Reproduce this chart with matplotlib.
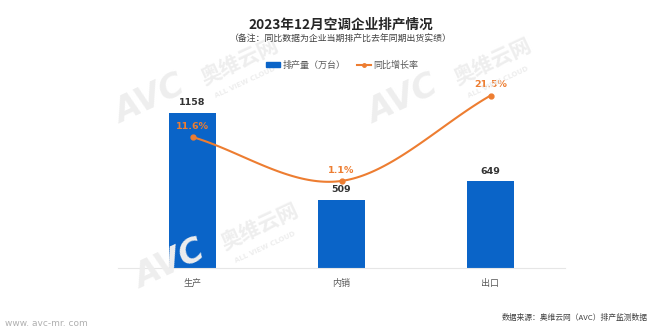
import numpy as np
import matplotlib.pyplot as plt
from matplotlib.patches import Patch
from matplotlib.lines import Line2D

plt.rcParams['font.family'] = ['Noto Sans CJK SC', 'DejaVu Sans']

# 数据
categories = ['生产', '内销', '出口']
output = [1158, 509, 649]          # 排产量（万台）
yoy = [11.6, 1.1, 21.5]            # 同比增长率 %

blue = '#0a64c8'
orange = '#ed7d31'

fig = plt.figure(figsize=(6.6, 3.36), dpi=100)
fig.patch.set_facecolor('white')

# 水印
wm = dict(color='#eeeeee', rotation=25, ha='center', va='center', zorder=0)
for (x, y) in [(150, 100), (403, 100), (170, 265)]:
    fig.text(x / 660, 1 - y / 336, 'AVC', fontsize=24, fontweight='bold',
             style='italic', family='DejaVu Sans', **wm)
    fig.text((x + 90) / 660, 1 - (y - 38) / 336, '奥维云网', fontsize=15,
             fontweight='bold', **wm)
    fig.text((x + 95) / 660, 1 - (y - 18) / 336, 'ALL VIEW CLOUD', fontsize=5,
             fontweight='bold', family='DejaVu Sans', **wm)

ax = fig.add_axes([118 / 660, (336 - 268) / 336, 447 / 660, 208 / 336])
ax.patch.set_alpha(0)
x = np.arange(len(categories))
ax.bar(x, output, width=0.31, color=blue, zorder=2)
ax.set_xlim(-0.5, 2.5)
ax.set_ylim(0, 1552)
for xi, v in zip(x, output):
    ax.text(xi, v + 40, str(v), ha='center', va='bottom', fontsize=6.8,
            fontweight='bold', color='#333333', family='DejaVu Sans')
ax.set_xticks(x)
ax.set_xticklabels(categories, fontsize=6.5, color='#595959')
ax.tick_params(axis='x', length=0, pad=8)
ax.set_yticks([])
for s in ['top', 'left', 'right']:
    ax.spines[s].set_visible(False)
ax.spines['bottom'].set_color('#e6e6e6')

ax2 = ax.twinx()
ax2.set_ylim(-19.7, 30)
ax2.set_yticks([])
for s in ax2.spines.values():
    s.set_visible(False)

# 平滑曲线（三次贝塞尔）
px = np.array(x, dtype=float)
py = np.array(yoy, dtype=float)
n = len(px)
tx = np.zeros(n)
ty = np.zeros(n)
for i in range(n):
    if i == 0:
        tx[i], ty[i] = px[1] - px[0], py[1] - py[0]
    elif i == n - 1:
        tx[i], ty[i] = px[-1] - px[-2], py[-1] - py[-2]
    else:
        tx[i], ty[i] = (px[i + 1] - px[i - 1]) / 2, (py[i + 1] - py[i - 1]) / 2
cx, cy = [], []
t = np.linspace(0, 1, 50)
for i in range(n - 1):
    p0 = (px[i], py[i])
    p1 = (px[i] + tx[i] / 3, py[i] + ty[i] / 3)
    p2 = (px[i + 1] - tx[i + 1] / 3, py[i + 1] - ty[i + 1] / 3)
    p3 = (px[i + 1], py[i + 1])
    b = [(1 - t) ** 3, 3 * (1 - t) ** 2 * t, 3 * (1 - t) * t ** 2, t ** 3]
    cx.extend(b[0] * p0[0] + b[1] * p1[0] + b[2] * p2[0] + b[3] * p3[0])
    cy.extend(b[0] * p0[1] + b[1] * p1[1] + b[2] * p2[1] + b[3] * p3[1])
ax2.plot(cx, cy, color=orange, lw=1.5, zorder=3)
ax2.plot(px, py, 'o', color=orange, ms=3.5, zorder=4)
for xi, v in zip(px, yoy):
    ax2.text(xi, v + 1.5, f'{v}%', ha='center', va='bottom', fontsize=6.8,
             fontweight='bold', color=orange, family='DejaVu Sans')

# 标题
fig.text(341 / 660, 1 - 25 / 336, '2023年12月空调企业排产情况', ha='center',
         va='center', fontsize=9.8, fontweight='bold', color='#262626')
fig.text(341 / 660, 1 - 38 / 336, '（备注：同比数据为企业当期排产比去年同期出货实绩）',
         ha='center', va='center', fontsize=6.4, color='#404040')

handles = [Patch(color=blue, label='排产量（万台）'),
           Line2D([0], [0], color=orange, lw=1.5, marker='o', ms=2.5,
                  label='同比增长率')]
fig.legend(handles=handles, loc='center', bbox_to_anchor=(342 / 660, 1 - 65 / 336),
           ncol=2, frameon=False, fontsize=6.5, labelcolor='#595959',
           handlelength=1.6, handleheight=0.45, columnspacing=1.3,
           handletextpad=0.2)

fig.text(5 / 660, 1 - 323 / 336, 'www. avc-mr. com', ha='left', va='center',
         fontsize=6.5, color='#b0b0b0', family='DejaVu Sans')
fig.text(648 / 660, 1 - 318 / 336, '数据来源：奥维云网（AVC）排产监测数据',
         ha='right', va='center', fontsize=5.6, color='#404040')

plt.savefig('out.png', dpi=100)
